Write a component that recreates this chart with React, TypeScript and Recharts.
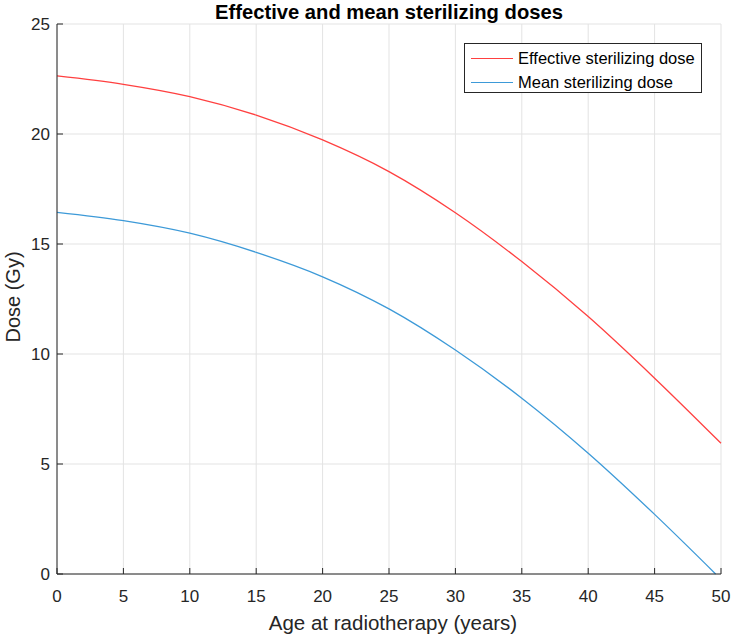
import { LineChart, Line, XAxis, YAxis, CartesianGrid, Legend, Label } from "recharts";

const ages = [0, 5, 10, 15, 20, 25, 30, 35, 40, 45, 49.6, 50];
const effectiveDose = [22.64, 22.26, 21.7, 20.86, 19.73, 18.29, 16.42, 14.2, 11.7, 8.9, 6.18, 5.94];
const meanDose = [16.44, 16.06, 15.49, 14.62, 13.51, 12.05, 10.18, 7.99, 5.49, 2.71, 0, null];
const xTicks = [0, 5, 10, 15, 20, 25, 30, 35, 40, 45, 50];
const yTicks = [0, 5, 10, 15, 20, 25];

const data = ages.map((age, i) => ({ age, effective: effectiveDose[i], mean: meanDose[i] }));

const AXIS = "#262626";
const FONT = "'Liberation Sans', Arial, sans-serif";
const TICK_LEN = 6;
const TICK_FONT = 17;

const BottomTick = ({ x, y, payload }: any) => (
  <g>
    <line x1={x} y1={y} x2={x} y2={y - TICK_LEN} stroke={AXIS} />
    <text x={x} y={y + 28} textAnchor="middle" fill={AXIS} fontSize={TICK_FONT} fontFamily={FONT}>
      {payload.value}
    </text>
  </g>
);
const TopTick = ({ x, y }: any) => <line x1={x} y1={y} x2={x} y2={y + TICK_LEN} stroke={AXIS} />;
const LeftTick = ({ x, y, payload }: any) => (
  <g>
    <line x1={x} y1={y} x2={x + TICK_LEN} y2={y} stroke={AXIS} />
    <text x={x - 7} y={y + 6} textAnchor="end" fill={AXIS} fontSize={TICK_FONT} fontFamily={FONT}>
      {payload.value}
    </text>
  </g>
);
const RightTick = ({ x, y }: any) => <line x1={x} y1={y} x2={x - TICK_LEN} y2={y} stroke={AXIS} />;

const LegendBox = ({ payload }: any) => (
  <div
    style={{
      border: "1px solid #262626",
      background: "#fff",
      padding: "2px 6px",
      fontFamily: FONT,
      fontSize: 16.5,
      color: "#000",
      boxSizing: "border-box",
      width: 238,
      height: 50,
    }}
  >
    {(payload || []).map((p: any) => (
      <div key={p.value} style={{ display: "flex", alignItems: "center", height: 24, whiteSpace: "nowrap" }}>
        <span style={{ display: "inline-block", width: 42, borderTop: `1.5px solid ${p.color}`, marginRight: 5 }} />
        <span>{p.value}</span>
      </div>
    ))}
  </div>
);

export default function App() {
  return (
    <div style={{ position: "absolute", left: 0, top: 0, background: "#fff" }}>
      <LineChart width={733} height={637} data={data} margin={{ top: 24, right: 12, bottom: 0, left: 10 }}>
        <CartesianGrid stroke="#e3e3e3" horizontalValues={yTicks} verticalValues={xTicks} />
        <XAxis
          dataKey="age"
          type="number"
          domain={[0, 50]}
          ticks={xTicks}
          height={63}
          tickSize={0}
          tickMargin={0}
          tickLine={false}
          axisLine={{ stroke: AXIS }}
          tick={<BottomTick />}
        >
          <Label
            content={() => (
              <g>
                <text x={393} y={630} textAnchor="middle" fill={AXIS} fontSize={20.5} fontFamily={FONT}>
                  Age at radiotherapy (years)
                </text>
                <text x={389} y={19} textAnchor="middle" fill="#000" fontSize={20.2} fontWeight="bold" fontFamily={FONT}>
                  Effective and mean sterilizing doses
                </text>
              </g>
            )}
          />
        </XAxis>
        <XAxis
          xAxisId="top"
          dataKey="age"
          orientation="top"
          type="number"
          domain={[0, 50]}
          ticks={xTicks}
          height={0}
          tickSize={0}
          tickMargin={0}
          tickLine={false}
          axisLine={{ stroke: AXIS }}
          tick={<TopTick />}
        />
        <YAxis
          type="number"
          domain={[0, 25]}
          ticks={yTicks}
          width={47}
          tickSize={0}
          tickMargin={0}
          tickLine={false}
          axisLine={{ stroke: AXIS }}
          tick={<LeftTick />}
        >
          <Label
            content={() => (
              <text
                x={20}
                y={297}
                transform="rotate(-90 20 297)"
                textAnchor="middle"
                fill={AXIS}
                fontSize={20}
                fontFamily={FONT}
              >
                Dose (Gy)
              </text>
            )}
          />
        </YAxis>
        <YAxis
          yAxisId="right"
          orientation="right"
          type="number"
          domain={[0, 25]}
          ticks={yTicks}
          width={0}
          tickSize={0}
          tickMargin={0}
          tickLine={false}
          axisLine={{ stroke: AXIS }}
          tick={<RightTick />}
        />
        <Legend
          layout="horizontal"
          verticalAlign="middle"
          align="center"
          content={<LegendBox />}
          wrapperStyle={{ position: "absolute", left: 464, top: 43, width: 238, height: 50 }}
        />
        <Line
          yAxisId="right"
          dataKey="effective"
          name="Effective sterilizing dose"
          type="monotone"
          stroke="#ff4040"
          strokeWidth={1.3}
          dot={false}
          isAnimationActive={false}
        />
        <Line
          xAxisId="top"
          dataKey="mean"
          name="Mean sterilizing dose"
          type="monotone"
          stroke="#3d9ad8"
          strokeWidth={1.3}
          dot={false}
          isAnimationActive={false}
        />
      </LineChart>
    </div>
  );
}
